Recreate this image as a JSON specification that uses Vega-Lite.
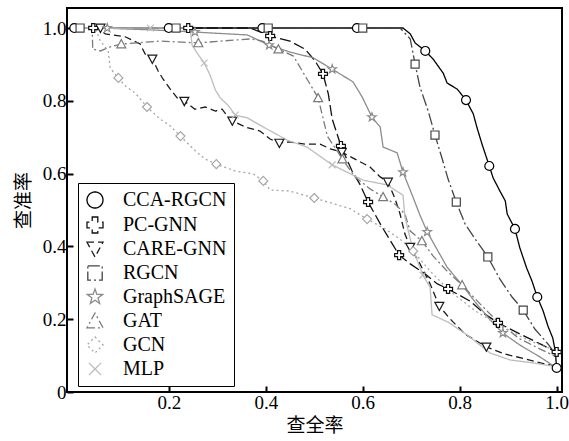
{
  "$schema": "https://vega.github.io/schema/vega-lite/v6.json",
  "width": 495,
  "height": 384,
  "autosize": {"type": "none"},
  "padding": {"left": 67, "top": 8, "right": 7, "bottom": 49},
  "background": "white",
  "config": {
    "view": {"stroke": "black", "strokeWidth": 2},
    "font": "Liberation Serif",
    "legend": {
      "orient": "none", "legendX": 11, "legendY": 175,
      "padding": 7, "strokeColor": "black", "fillColor": "white",
      "symbolSize": 256, "symbolStrokeWidth": 1.3,
      "labelFont": "Liberation Serif", "labelFontSize": 20, "labelColor": "black",
      "labelOffset": 18, "rowPadding": 3, "labelLimit": 300
    }
  },
  "datasets": {
    "curves": [
      {"s":"CCA-RGCN","i":0,"x":0,"y":1},{"s":"CCA-RGCN","i":1,"x":0.683,"y":1},{"s":"CCA-RGCN","i":2,"x":0.698,"y":0.984},{"s":"CCA-RGCN","i":3,"x":0.708,"y":0.959},{"s":"CCA-RGCN","i":4,"x":0.729,"y":0.937},{"s":"CCA-RGCN","i":5,"x":0.745,"y":0.915},{"s":"CCA-RGCN","i":6,"x":0.766,"y":0.876},{"s":"CCA-RGCN","i":7,"x":0.774,"y":0.849},{"s":"CCA-RGCN","i":8,"x":0.795,"y":0.832},{"s":"CCA-RGCN","i":9,"x":0.813,"y":0.802},{"s":"CCA-RGCN","i":10,"x":0.828,"y":0.764},{"s":"CCA-RGCN","i":11,"x":0.836,"y":0.725},{"s":"CCA-RGCN","i":12,"x":0.846,"y":0.681},{"s":"CCA-RGCN","i":13,"x":0.861,"y":0.621},{"s":"CCA-RGCN","i":14,"x":0.869,"y":0.588},{"s":"CCA-RGCN","i":15,"x":0.883,"y":0.552},{"s":"CCA-RGCN","i":16,"x":0.894,"y":0.525},{"s":"CCA-RGCN","i":17,"x":0.898,"y":0.489},{"s":"CCA-RGCN","i":18,"x":0.914,"y":0.448},{"s":"CCA-RGCN","i":19,"x":0.924,"y":0.396},{"s":"CCA-RGCN","i":20,"x":0.938,"y":0.341},{"s":"CCA-RGCN","i":21,"x":0.949,"y":0.305},{"s":"CCA-RGCN","i":22,"x":0.96,"y":0.261},{"s":"CCA-RGCN","i":23,"x":0.972,"y":0.223},{"s":"CCA-RGCN","i":24,"x":0.982,"y":0.181},{"s":"CCA-RGCN","i":25,"x":0.992,"y":0.148},{"s":"CCA-RGCN","i":26,"x":0.997,"y":0.113},{"s":"CCA-RGCN","i":27,"x":1.0,"y":0.066},

      {"s":"RGCN","i":0,"x":0,"y":1},{"s":"RGCN","i":1,"x":0.677,"y":1},{"s":"RGCN","i":2,"x":0.698,"y":0.97},{"s":"RGCN","i":3,"x":0.708,"y":0.901},{"s":"RGCN","i":4,"x":0.718,"y":0.838},{"s":"RGCN","i":5,"x":0.735,"y":0.772},{"s":"RGCN","i":6,"x":0.749,"y":0.706},{"s":"RGCN","i":7,"x":0.764,"y":0.64},{"s":"RGCN","i":8,"x":0.776,"y":0.585},{"s":"RGCN","i":9,"x":0.793,"y":0.522},{"s":"RGCN","i":10,"x":0.811,"y":0.462},{"s":"RGCN","i":11,"x":0.832,"y":0.42},{"s":"RGCN","i":12,"x":0.858,"y":0.371},{"s":"RGCN","i":13,"x":0.883,"y":0.31},{"s":"RGCN","i":14,"x":0.908,"y":0.261},{"s":"RGCN","i":15,"x":0.931,"y":0.225},{"s":"RGCN","i":16,"x":0.955,"y":0.173},{"s":"RGCN","i":17,"x":0.982,"y":0.132},{"s":"RGCN","i":18,"x":1.0,"y":0.099},

      {"s":"PC-GNN","i":0,"x":0,"y":1},{"s":"PC-GNN","i":1,"x":0.368,"y":1},{"s":"PC-GNN","i":2,"x":0.409,"y":0.978},{"s":"PC-GNN","i":3,"x":0.45,"y":0.964},{"s":"PC-GNN","i":4,"x":0.481,"y":0.942},{"s":"PC-GNN","i":5,"x":0.502,"y":0.909},{"s":"PC-GNN","i":6,"x":0.518,"y":0.874},{"s":"PC-GNN","i":7,"x":0.529,"y":0.819},{"s":"PC-GNN","i":8,"x":0.537,"y":0.75},{"s":"PC-GNN","i":9,"x":0.547,"y":0.709},{"s":"PC-GNN","i":10,"x":0.555,"y":0.676},{"s":"PC-GNN","i":11,"x":0.578,"y":0.607},{"s":"PC-GNN","i":12,"x":0.594,"y":0.571},{"s":"PC-GNN","i":13,"x":0.611,"y":0.522},{"s":"PC-GNN","i":14,"x":0.64,"y":0.453},{"s":"PC-GNN","i":15,"x":0.661,"y":0.407},{"s":"PC-GNN","i":16,"x":0.675,"y":0.376},{"s":"PC-GNN","i":17,"x":0.698,"y":0.352},{"s":"PC-GNN","i":18,"x":0.729,"y":0.324},{"s":"PC-GNN","i":19,"x":0.754,"y":0.297},{"s":"PC-GNN","i":20,"x":0.776,"y":0.283},{"s":"PC-GNN","i":21,"x":0.821,"y":0.25},{"s":"PC-GNN","i":22,"x":0.852,"y":0.214},{"s":"PC-GNN","i":23,"x":0.879,"y":0.19},{"s":"PC-GNN","i":24,"x":0.925,"y":0.159},{"s":"PC-GNN","i":25,"x":0.966,"y":0.132},{"s":"PC-GNN","i":26,"x":1.0,"y":0.11},

      {"s":"CARE-GNN","i":0,"x":0,"y":1},{"s":"CARE-GNN","i":1,"x":0.052,"y":1},{"s":"CARE-GNN","i":2,"x":0.069,"y":0.984},{"s":"CARE-GNN","i":3,"x":0.11,"y":0.976},{"s":"CARE-GNN","i":4,"x":0.141,"y":0.956},{"s":"CARE-GNN","i":5,"x":0.151,"y":0.929},{"s":"CARE-GNN","i":6,"x":0.166,"y":0.915},{"s":"CARE-GNN","i":7,"x":0.178,"y":0.882},{"s":"CARE-GNN","i":8,"x":0.188,"y":0.86},{"s":"CARE-GNN","i":9,"x":0.203,"y":0.832},{"s":"CARE-GNN","i":10,"x":0.219,"y":0.805},{"s":"CARE-GNN","i":11,"x":0.232,"y":0.799},{"s":"CARE-GNN","i":12,"x":0.254,"y":0.777},{"s":"CARE-GNN","i":13,"x":0.275,"y":0.783},{"s":"CARE-GNN","i":14,"x":0.296,"y":0.772},{"s":"CARE-GNN","i":15,"x":0.31,"y":0.777},{"s":"CARE-GNN","i":16,"x":0.322,"y":0.755},{"s":"CARE-GNN","i":17,"x":0.331,"y":0.745},{"s":"CARE-GNN","i":18,"x":0.358,"y":0.728},{"s":"CARE-GNN","i":19,"x":0.388,"y":0.717},{"s":"CARE-GNN","i":20,"x":0.409,"y":0.695},{"s":"CARE-GNN","i":21,"x":0.428,"y":0.684},{"s":"CARE-GNN","i":22,"x":0.45,"y":0.687},{"s":"CARE-GNN","i":23,"x":0.481,"y":0.681},{"s":"CARE-GNN","i":24,"x":0.512,"y":0.681},{"s":"CARE-GNN","i":25,"x":0.533,"y":0.668},{"s":"CARE-GNN","i":26,"x":0.557,"y":0.659},{"s":"CARE-GNN","i":27,"x":0.584,"y":0.64},{"s":"CARE-GNN","i":28,"x":0.615,"y":0.618},{"s":"CARE-GNN","i":29,"x":0.636,"y":0.591},{"s":"CARE-GNN","i":30,"x":0.652,"y":0.577},{"s":"CARE-GNN","i":31,"x":0.667,"y":0.53},{"s":"CARE-GNN","i":32,"x":0.677,"y":0.489},{"s":"CARE-GNN","i":33,"x":0.687,"y":0.434},{"s":"CARE-GNN","i":34,"x":0.698,"y":0.398},{"s":"CARE-GNN","i":35,"x":0.718,"y":0.352},{"s":"CARE-GNN","i":36,"x":0.739,"y":0.297},{"s":"CARE-GNN","i":37,"x":0.758,"y":0.236},{"s":"CARE-GNN","i":38,"x":0.78,"y":0.201},{"s":"CARE-GNN","i":39,"x":0.811,"y":0.159},{"s":"CARE-GNN","i":40,"x":0.855,"y":0.124},{"s":"CARE-GNN","i":41,"x":0.894,"y":0.104},{"s":"CARE-GNN","i":42,"x":0.935,"y":0.091},{"s":"CARE-GNN","i":43,"x":0.976,"y":0.077},{"s":"CARE-GNN","i":44,"x":1.0,"y":0.071},

      {"s":"GraphSAGE","i":0,"x":0,"y":1},{"s":"GraphSAGE","i":1,"x":0.059,"y":1},{"s":"GraphSAGE","i":2,"x":0.162,"y":0.995},{"s":"GraphSAGE","i":3,"x":0.254,"y":0.989},{"s":"GraphSAGE","i":4,"x":0.292,"y":0.986},{"s":"GraphSAGE","i":5,"x":0.362,"y":0.981},{"s":"GraphSAGE","i":6,"x":0.407,"y":0.953},{"s":"GraphSAGE","i":7,"x":0.45,"y":0.934},{"s":"GraphSAGE","i":8,"x":0.498,"y":0.918},{"s":"GraphSAGE","i":9,"x":0.537,"y":0.887},{"s":"GraphSAGE","i":10,"x":0.58,"y":0.852},{"s":"GraphSAGE","i":11,"x":0.599,"y":0.81},{"s":"GraphSAGE","i":12,"x":0.619,"y":0.755},{"s":"GraphSAGE","i":13,"x":0.636,"y":0.728},{"s":"GraphSAGE","i":14,"x":0.642,"y":0.673},{"s":"GraphSAGE","i":15,"x":0.671,"y":0.657},{"s":"GraphSAGE","i":16,"x":0.683,"y":0.604},{"s":"GraphSAGE","i":17,"x":0.702,"y":0.541},{"s":"GraphSAGE","i":18,"x":0.718,"y":0.486},{"s":"GraphSAGE","i":19,"x":0.733,"y":0.44},{"s":"GraphSAGE","i":20,"x":0.754,"y":0.39},{"s":"GraphSAGE","i":21,"x":0.774,"y":0.343},{"s":"GraphSAGE","i":22,"x":0.805,"y":0.294},{"s":"GraphSAGE","i":23,"x":0.832,"y":0.247},{"s":"GraphSAGE","i":24,"x":0.863,"y":0.198},{"s":"GraphSAGE","i":25,"x":0.889,"y":0.162},{"s":"GraphSAGE","i":26,"x":0.924,"y":0.129},{"s":"GraphSAGE","i":27,"x":0.966,"y":0.096},{"s":"GraphSAGE","i":28,"x":1.0,"y":0.066},

      {"s":"GAT","i":0,"x":0,"y":1},{"s":"GAT","i":1,"x":0.042,"y":1},{"s":"GAT","i":2,"x":0.043,"y":0.942},{"s":"GAT","i":3,"x":0.059,"y":0.937},{"s":"GAT","i":4,"x":0.079,"y":0.948},{"s":"GAT","i":5,"x":0.102,"y":0.956},{"s":"GAT","i":6,"x":0.182,"y":0.964},{"s":"GAT","i":7,"x":0.261,"y":0.959},{"s":"GAT","i":8,"x":0.306,"y":0.964},{"s":"GAT","i":9,"x":0.368,"y":0.97},{"s":"GAT","i":10,"x":0.393,"y":0.964},{"s":"GAT","i":11,"x":0.426,"y":0.942},{"s":"GAT","i":12,"x":0.457,"y":0.923},{"s":"GAT","i":13,"x":0.485,"y":0.86},{"s":"GAT","i":14,"x":0.508,"y":0.808},{"s":"GAT","i":15,"x":0.512,"y":0.786},{"s":"GAT","i":16,"x":0.527,"y":0.703},{"s":"GAT","i":17,"x":0.558,"y":0.64},{"s":"GAT","i":18,"x":0.584,"y":0.591},{"s":"GAT","i":19,"x":0.615,"y":0.558},{"s":"GAT","i":20,"x":0.642,"y":0.536},{"s":"GAT","i":21,"x":0.667,"y":0.516},{"s":"GAT","i":22,"x":0.687,"y":0.489},{"s":"GAT","i":23,"x":0.698,"y":0.442},{"s":"GAT","i":24,"x":0.722,"y":0.415},{"s":"GAT","i":25,"x":0.745,"y":0.374},{"s":"GAT","i":26,"x":0.774,"y":0.332},{"s":"GAT","i":27,"x":0.805,"y":0.294},{"s":"GAT","i":28,"x":0.842,"y":0.242},{"s":"GAT","i":29,"x":0.883,"y":0.187},{"s":"GAT","i":30,"x":0.924,"y":0.146},{"s":"GAT","i":31,"x":0.966,"y":0.118},{"s":"GAT","i":32,"x":1.0,"y":0.096},

      {"s":"GCN","i":0,"x":0,"y":1},{"s":"GCN","i":1,"x":0.048,"y":1},{"s":"GCN","i":2,"x":0.059,"y":0.964},{"s":"GCN","i":3,"x":0.075,"y":0.937},{"s":"GCN","i":4,"x":0.079,"y":0.89},{"s":"GCN","i":5,"x":0.096,"y":0.863},{"s":"GCN","i":6,"x":0.11,"y":0.841},{"s":"GCN","i":7,"x":0.131,"y":0.821},{"s":"GCN","i":8,"x":0.155,"y":0.783},{"s":"GCN","i":9,"x":0.182,"y":0.75},{"s":"GCN","i":10,"x":0.203,"y":0.731},{"s":"GCN","i":11,"x":0.224,"y":0.703},{"s":"GCN","i":12,"x":0.255,"y":0.662},{"s":"GCN","i":13,"x":0.275,"y":0.64},{"s":"GCN","i":14,"x":0.298,"y":0.626},{"s":"GCN","i":15,"x":0.337,"y":0.607},{"s":"GCN","i":16,"x":0.374,"y":0.599},{"s":"GCN","i":17,"x":0.395,"y":0.58},{"s":"GCN","i":18,"x":0.409,"y":0.555},{"s":"GCN","i":19,"x":0.45,"y":0.552},{"s":"GCN","i":20,"x":0.5,"y":0.533},{"s":"GCN","i":21,"x":0.543,"y":0.516},{"s":"GCN","i":22,"x":0.575,"y":0.503},{"s":"GCN","i":23,"x":0.609,"y":0.475},{"s":"GCN","i":24,"x":0.646,"y":0.448},{"s":"GCN","i":25,"x":0.677,"y":0.42},{"s":"GCN","i":26,"x":0.704,"y":0.387},{"s":"GCN","i":27,"x":0.739,"y":0.332},{"s":"GCN","i":28,"x":0.78,"y":0.277},{"s":"GCN","i":29,"x":0.832,"y":0.223},{"s":"GCN","i":30,"x":0.883,"y":0.181},{"s":"GCN","i":31,"x":0.945,"y":0.14},{"s":"GCN","i":32,"x":1.0,"y":0.113},

      {"s":"MLP","i":0,"x":0,"y":1},{"s":"MLP","i":1,"x":0.244,"y":1},{"s":"MLP","i":2,"x":0.248,"y":0.953},{"s":"MLP","i":3,"x":0.261,"y":0.926},{"s":"MLP","i":4,"x":0.273,"y":0.904},{"s":"MLP","i":5,"x":0.285,"y":0.871},{"s":"MLP","i":6,"x":0.296,"y":0.83},{"s":"MLP","i":7,"x":0.306,"y":0.808},{"s":"MLP","i":8,"x":0.322,"y":0.788},{"s":"MLP","i":9,"x":0.337,"y":0.761},{"s":"MLP","i":10,"x":0.362,"y":0.753},{"s":"MLP","i":11,"x":0.395,"y":0.728},{"s":"MLP","i":12,"x":0.444,"y":0.692},{"s":"MLP","i":13,"x":0.485,"y":0.673},{"s":"MLP","i":14,"x":0.537,"y":0.624},{"s":"MLP","i":15,"x":0.601,"y":0.582},{"s":"MLP","i":16,"x":0.65,"y":0.569},{"s":"MLP","i":17,"x":0.683,"y":0.541},{"s":"MLP","i":18,"x":0.687,"y":0.481},{"s":"MLP","i":19,"x":0.702,"y":0.398},{"s":"MLP","i":20,"x":0.724,"y":0.321},{"s":"MLP","i":21,"x":0.739,"y":0.288},{"s":"MLP","i":22,"x":0.743,"y":0.212},{"s":"MLP","i":23,"x":0.776,"y":0.192},{"s":"MLP","i":24,"x":0.815,"y":0.157},{"s":"MLP","i":25,"x":0.863,"y":0.107},{"s":"MLP","i":26,"x":0.904,"y":0.088},{"s":"MLP","i":27,"x":0.951,"y":0.08},{"s":"MLP","i":28,"x":1.0,"y":0.069}
    ],
    "markers": [
      {"s":"CCA-RGCN","x":0.005,"y":1},{"s":"CCA-RGCN","x":0.2,"y":1},{"s":"CCA-RGCN","x":0.393,"y":1},{"s":"CCA-RGCN","x":0.588,"y":1},{"s":"CCA-RGCN","x":0.729,"y":0.937},{"s":"CCA-RGCN","x":0.813,"y":0.802},{"s":"CCA-RGCN","x":0.861,"y":0.621},{"s":"CCA-RGCN","x":0.914,"y":0.448},{"s":"CCA-RGCN","x":0.96,"y":0.261},{"s":"CCA-RGCN","x":1.0,"y":0.066},
      {"s":"RGCN","x":0.017,"y":1},{"s":"RGCN","x":0.215,"y":1},{"s":"RGCN","x":0.405,"y":1},{"s":"RGCN","x":0.6,"y":1},{"s":"RGCN","x":0.708,"y":0.901},{"s":"RGCN","x":0.749,"y":0.706},{"s":"RGCN","x":0.793,"y":0.522},{"s":"RGCN","x":0.858,"y":0.371},{"s":"RGCN","x":0.931,"y":0.225},
      {"s":"PC-GNN","x":0.044,"y":1},{"s":"PC-GNN","x":0.24,"y":1},{"s":"PC-GNN","x":0.409,"y":0.978},{"s":"PC-GNN","x":0.518,"y":0.874},{"s":"PC-GNN","x":0.555,"y":0.676},{"s":"PC-GNN","x":0.611,"y":0.522},{"s":"PC-GNN","x":0.675,"y":0.376},{"s":"PC-GNN","x":0.776,"y":0.283},{"s":"PC-GNN","x":0.879,"y":0.19},{"s":"PC-GNN","x":1.0,"y":0.11},
      {"s":"CARE-GNN","x":0.059,"y":1},{"s":"CARE-GNN","x":0.166,"y":0.915},{"s":"CARE-GNN","x":0.232,"y":0.799},{"s":"CARE-GNN","x":0.331,"y":0.745},{"s":"CARE-GNN","x":0.428,"y":0.684},{"s":"CARE-GNN","x":0.557,"y":0.659},{"s":"CARE-GNN","x":0.652,"y":0.577},{"s":"CARE-GNN","x":0.698,"y":0.398},{"s":"CARE-GNN","x":0.758,"y":0.236},{"s":"CARE-GNN","x":0.855,"y":0.124},
      {"s":"GraphSAGE","x":0.073,"y":1},{"s":"GraphSAGE","x":0.254,"y":0.989},{"s":"GraphSAGE","x":0.407,"y":0.953},{"s":"GraphSAGE","x":0.537,"y":0.887},{"s":"GraphSAGE","x":0.619,"y":0.755},{"s":"GraphSAGE","x":0.683,"y":0.604},{"s":"GraphSAGE","x":0.733,"y":0.44},{"s":"GraphSAGE","x":0.889,"y":0.162},
      {"s":"GAT","x":0.102,"y":0.956},{"s":"GAT","x":0.261,"y":0.959},{"s":"GAT","x":0.426,"y":0.942},{"s":"GAT","x":0.508,"y":0.808},{"s":"GAT","x":0.558,"y":0.64},{"s":"GAT","x":0.642,"y":0.536},{"s":"GAT","x":0.722,"y":0.415},{"s":"GAT","x":0.805,"y":0.294},
      {"s":"GCN","x":0.096,"y":0.863},{"s":"GCN","x":0.155,"y":0.783},{"s":"GCN","x":0.224,"y":0.703},{"s":"GCN","x":0.298,"y":0.626},{"s":"GCN","x":0.395,"y":0.58},{"s":"GCN","x":0.5,"y":0.533},{"s":"GCN","x":0.609,"y":0.475},{"s":"GCN","x":0.704,"y":0.387},
      {"s":"MLP","x":0.162,"y":1},{"s":"MLP","x":0.273,"y":0.904},{"s":"MLP","x":0.337,"y":0.761},{"s":"MLP","x":0.537,"y":0.624},{"s":"MLP","x":0.724,"y":0.321}
    ]
  },
  "encoding": {
    "x": {
      "field": "x", "type": "quantitative",
      "scale": {"domain": [-0.01, 1.011], "nice": false, "zero": false},
      "axis": {
        "title": "查全率", "values": [0.2, 0.4, 0.6, 0.8, 1.0], "format": ".1f",
        "domain": false, "grid": false, "tickSize": -6, "tickWidth": 2, "tickColor": "black",
        "labelPadding": 7, "labelFont": "Liberation Serif", "labelFontSize": 19, "labelColor": "black",
        "titleFont": "Liberation Serif, Noto Sans CJK SC", "titleFontSize": 19, "titleFontWeight": "normal",
        "titleColor": "black", "titlePadding": 4
      }
    },
    "y": {
      "field": "y", "type": "quantitative",
      "scale": {"domain": [0, 1.055], "nice": false, "zero": false},
      "axis": {
        "title": "查准率", "values": [0, 0.2, 0.4, 0.6, 0.8, 1.0],
        "labelExpr": "datum.value === 0 ? '0' : format(datum.value, '.1f')",
        "domain": false, "grid": false, "tickSize": -6, "tickWidth": 2, "tickColor": "black",
        "labelPadding": 7, "labelFont": "Liberation Serif", "labelFontSize": 19, "labelColor": "black",
        "titleFont": "Liberation Serif, Noto Sans CJK SC", "titleFontSize": 19, "titleFontWeight": "normal",
        "titleColor": "black", "titlePadding": 9
      }
    }
  },
  "layer": [
    {
      "data": {"name": "curves"},
      "mark": {"type": "line", "strokeWidth": 1.3, "interpolate": "linear"},
      "encoding": {
        "order": {"field": "i", "type": "quantitative"},
        "stroke": {
          "field": "s", "type": "nominal", "title": null,
          "scale": {
            "domain": ["CCA-RGCN", "PC-GNN", "CARE-GNN", "RGCN", "GraphSAGE", "GAT", "GCN", "MLP"],
            "range": ["#000000", "#111111", "#1a1a1a", "#444444", "#8c8c8c", "#7a7a7a", "#a6a6a6", "#bdbdbd"]
          }
        },
        "strokeDash": {
          "field": "s", "type": "nominal", "title": null,
          "scale": {
            "domain": ["CCA-RGCN", "PC-GNN", "CARE-GNN", "RGCN", "GraphSAGE", "GAT", "GCN", "MLP"],
            "range": [[1, 0], [11, 4], [7, 4], [12, 3, 2, 3], [1, 0], [8, 3, 2, 3], [2, 3], [1, 0]]
          }
        }
      }
    },
    {
      "data": {"name": "markers"},
      "mark": {"type": "point", "filled": true, "fill": "white", "strokeWidth": 1.2, "size": 80, "opacity": 1},
      "encoding": {
        "stroke": {"field": "s", "type": "nominal", "title": null},
        "shape": {
          "field": "s", "type": "nominal", "title": null,
          "scale": {
            "domain": ["CCA-RGCN", "PC-GNN", "CARE-GNN", "RGCN", "GraphSAGE", "GAT", "GCN", "MLP"],
            "range": [
              "M1,0A1,1,0,1,1,-1,0A1,1,0,1,1,1,0Z",
              "M-0.35,-1H0.35V-0.35H1V0.35H0.35V1H-0.35V0.35H-1V-0.35H-0.35Z",
              "M-1,-0.85H1L0,1Z",
              "M-0.9,-0.9H0.9V0.9H-0.9Z",
              "M0,-1L0.235,-0.324L0.951,-0.309L0.38,0.124L0.588,0.809L0,0.4L-0.588,0.809L-0.38,0.124L-0.951,-0.309L-0.235,-0.324Z",
              "M-1,0.85H1L0,-1Z",
              "M0,-1L1,0L0,1L-1,0Z",
              "M-0.75,-0.75L0.75,0.75M-0.75,0.75L0.75,-0.75"
            ]
          },
          "legend": {
            "labelExpr": "datum.label + '\u00a0\u00a0'"
          }
        }
      }
    }
  ]
}
